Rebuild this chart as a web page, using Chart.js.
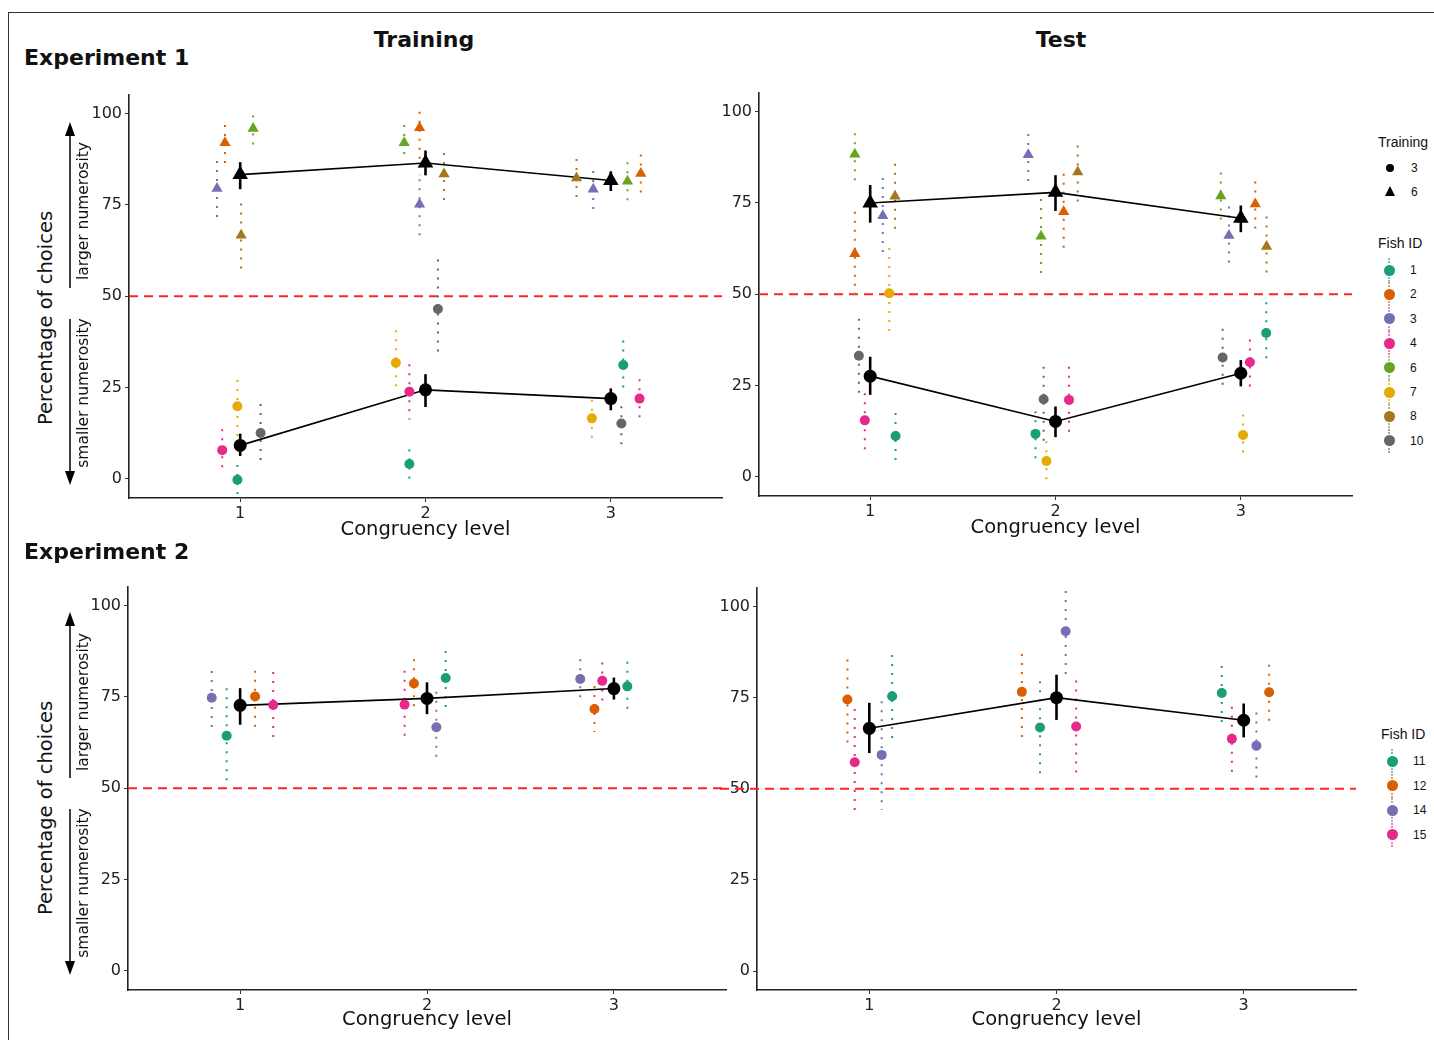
<!DOCTYPE html>
<html>
<head>
<meta charset="utf-8">
<title>Percentage of choices by congruency level</title>
<script src="https://cdn.jsdelivr.net/npm/chart.js@4.4.0/dist/chart.umd.min.js"></script>
<style>
  body { margin: 0; background: #fff; }
  #page { position: relative; width: 1434px; height: 1040px; overflow: hidden; font-family: 'DejaVu Sans', sans-serif; color: #111; }
  .frame { position: absolute; left: 8px; top: 12px; width: 1440px; height: 1040px; border-top: 1px solid #333; border-left: 1px solid #333; }
  .panel { position: absolute; }
  .lbl { position: absolute; white-space: nowrap; line-height: 1; }
  .bold { font-weight: bold; font-size: 22px; }
  .legend { font-family: 'Liberation Sans', Arial, sans-serif; }
  .dot { position: absolute; border-radius: 50%; }
  .tri { position: absolute; width: 0; height: 0; border-left: 5px solid transparent; border-right: 5px solid transparent; border-bottom: 10px solid #000; }
  .keyline { position: absolute; width: 0; border-left: 2px dotted; }
</style>
</head>
<body>
<div id="page">
  <div class="frame"></div>
  <svg width="1434" height="1040" style="position:absolute;left:0;top:0" id="arrows"></svg>
  <div class="panel" id="p1"><canvas id="c1"></canvas></div>
  <div class="panel" id="p2"><canvas id="c2"></canvas></div>
  <div class="panel" id="p3"><canvas id="c3"></canvas></div>
  <div class="panel" id="p4"><canvas id="c4"></canvas></div>
</div>
<script>
'use strict';

// data
const levels = [1, 2, 3];
const yTicks = [0, 25, 50, 75, 100];
const chance = 50;

// Experiment 1 - fish and their training group (3 = smaller, 6 = larger numerosity)
const exp1Fish = ['1', '2', '3', '4', '6', '7', '8', '10'];
const exp1Group = [3, 6, 6, 3, 6, 3, 6, 3];
const exp1Colors = ['#1B9E77', '#D95F02', '#7570B3', '#E7298A', '#66A61E', '#E6AB02', '#A6761D', '#666666'];

// Experiment 1, training: one row per fish, one value per congruency level
const e1TrainPct = [
  [-0.2, 4.1, 31.2],
  [92.0, 96.1, 83.6],
  [79.5, 75.2, 79.3],
  [7.9, 23.9, 22.0],
  [95.9, 92.0, 81.5],
  [19.9, 31.8, 16.6],
  [66.7, 83.5, 82.4],
  [12.6, 46.5, 15.2]
];
const e1TrainLo = [
  [-4.7, 0.0, 24.4],
  [86.0, 83.1, 77.7],
  [70.7, 65.9, 73.2],
  [2.3, 16.3, 16.3],
  [91.2, 88.5, 75.4],
  [10.8, 23.9, 10.8],
  [56.9, 75.2, 76.2],
  [3.9, 33.0, 8.9]
];
const e1TrainHi = [
  [3.8, 8.1, 37.9],
  [96.9, 100.5, 88.8],
  [87.0, 82.0, 84.3],
  [13.6, 31.4, 27.3],
  [99.5, 96.9, 86.7],
  [27.1, 40.7, 21.7],
  [75.4, 89.2, 87.6],
  [20.5, 60.1, 19.9]
];
const e1TrainDodge = [
  [-0.015, -0.087, 0.067],
  [-0.082, -0.032, 0.162],
  [-0.125, -0.032, -0.095],
  [-0.097, -0.087, 0.155],
  [0.07, -0.115, 0.09],
  [-0.015, -0.16, -0.102],
  [0.005, 0.1, -0.185],
  [0.11, 0.067, 0.057]
];
const e1TrainMean = [[9.2, 24.4, 22.0], [83.3, 86.5, 81.7]];
const e1TrainMeanLo = [[6.3, 19.7, 18.8], [79.3, 83.1, 78.8]];
const e1TrainMeanHi = [[12.4, 28.7, 24.8], [86.7, 89.9, 84.2]];

// Experiment 1, test
const e1TestPct = [
  [11.2, 11.8, 39.4],
  [61.1, 72.6, 74.7],
  [71.5, 88.2, 66.1],
  [15.5, 21.1, 31.4],
  [88.3, 65.9, 76.9],
  [50.3, 4.4, 11.5],
  [76.8, 83.5, 63.1],
  [33.2, 21.3, 32.7]
];
const e1TestLo = [
  [3.5, 4.2, 31.1],
  [49.0, 61.3, 67.2],
  [60.4, 80.0, 58.2],
  [6.7, 10.7, 23.4],
  [80.6, 54.4, 69.5],
  [38.1, -1.0, 6.1],
  [66.3, 74.4, 55.0],
  [22.0, 9.4, 24.8]
];
const e1TestHi = [
  [17.5, 18.0, 47.8],
  [72.6, 83.0, 80.9],
  [81.8, 93.9, 74.0],
  [22.9, 30.2, 37.6],
  [94.1, 76.1, 83.3],
  [62.7, 9.8, 17.1],
  [85.7, 90.7, 71.3],
  [43.3, 30.2, 40.6]
];
const e1TestDodge = [
  [0.137, -0.108, 0.137],
  [-0.083, 0.044, 0.078],
  [0.068, -0.147, -0.064],
  [-0.029, 0.073, 0.049],
  [-0.083, -0.078, -0.108],
  [0.103, -0.049, 0.012],
  [0.134, 0.12, 0.139],
  [-0.061, -0.064, -0.098]
];
const e1TestMean = [[27.6, 15.2, 28.4], [75.0, 77.9, 70.8]];
const e1TestMeanLo = [[22.5, 10.9, 24.8], [69.6, 72.8, 67.0]];
const e1TestMeanHi = [[32.9, 19.3, 32.0], [79.9, 82.6, 74.3]];

// Experiment 2
const exp2Fish = ['11', '12', '14', '15'];
const exp2Group = [0, 0, 0, 0];
const exp2Colors = ['#1B9E77', '#D95F02', '#7570B3', '#E7298A'];

const e2TrainPct = [
  [64.4, 80.2, 77.9],
  [75.1, 78.7, 71.7],
  [74.8, 66.7, 79.9],
  [72.8, 72.9, 79.4]
];
const e2TrainLo = [
  [50.9, 70.9, 70.8],
  [65.9, 71.2, 65.4],
  [65.9, 57.4, 74.7],
  [62.6, 63.2, 73.2]
];
const e2TrainHi = [
  [77.4, 87.6, 84.6],
  [82.2, 85.3, 78.0],
  [82.1, 76.4, 85.3],
  [81.8, 82.2, 84.4]
];
const e2TrainDodge = [
  [-0.072, 0.1, 0.072],
  [0.08, -0.07, -0.104],
  [-0.152, 0.05, -0.18],
  [0.177, -0.12, -0.062]
];
const e2TrainMean = [[72.7, 74.6, 77.3]];
const e2TrainMeanLo = [[67.4, 70.3, 74.3]];
const e2TrainMeanHi = [[77.4, 79.0, 80.3]];

const e2TestPct = [
  [75.4, 66.8, 76.3],
  [74.5, 76.6, 76.5],
  [59.3, 93.2, 61.8],
  [57.3, 67.1, 63.7]
];
const e2TestLo = [
  [62.3, 52.8, 67.2],
  [61.2, 62.8, 67.2],
  [44.2, 80.2, 51.7],
  [42.4, 52.8, 53.7]
];
const e2TestHi = [
  [86.7, 79.5, 83.7],
  [85.5, 87.0, 84.0],
  [74.0, 104.3, 70.9],
  [71.9, 79.7, 72.5]
];
const e2TestDodge = [
  [0.122, -0.088, -0.117],
  [-0.117, -0.185, 0.136],
  [0.066, 0.049, 0.068],
  [-0.078, 0.105, -0.063]
];
const e2TestMean = [[66.6, 75.0, 68.8]];
const e2TestMeanLo = [[59.8, 68.9, 64.1]];
const e2TestMeanHi = [[73.6, 81.3, 73.4]];

// plugins: red chance line + error bars
const chanceLine = {
  id: 'chanceLine',
  beforeDatasetsDraw(chart, args, opts) {
    const ctx = chart.ctx;
    const area = chart.chartArea;
    const y = chart.scales.y.getPixelForValue(chance);
    ctx.save();
    ctx.strokeStyle = '#FF2424';
    ctx.lineWidth = 2;
    ctx.setLineDash([9, 6]);
    ctx.beginPath();
    ctx.moveTo(area.left - (opts.extendLeft || 0), y);
    ctx.lineTo(area.right, y);
    ctx.stroke();
    ctx.restore();
  }
};

function drawBars(chart, dotted) {
  const ctx = chart.ctx;
  const yScale = chart.scales.y;
  chart.data.datasets.forEach((ds, i) => {
    if (ds.dotted !== dotted) return;
    const meta = chart.getDatasetMeta(i);
    ctx.save();
    ctx.strokeStyle = ds.borderColor;
    ctx.lineWidth = dotted ? 2 : 2.6;
    ctx.setLineDash(dotted ? [2, 7] : []);
    meta.data.forEach((pt, j) => {
      ctx.beginPath();
      ctx.moveTo(pt.x, yScale.getPixelForValue(ds.hi[j]));
      ctx.lineTo(pt.x, yScale.getPixelForValue(ds.lo[j]));
      ctx.stroke();
    });
    ctx.restore();
  });
}

const errorBars = {
  id: 'errorBars',
  beforeDatasetsDraw(chart) { drawBars(chart, true); },
  afterDatasetsDraw(chart) { drawBars(chart, false); }
};

function makePanel(id, area, fish, groups, colors, pct, lo, hi, dodge, mean, meanLo, meanHi, extendLeft) {
  const yW = 70, padTop = 10, padRight = 8, xH = 50;
  const wrap = document.getElementById('p' + id);
  const canvas = document.getElementById('c' + id);
  const w = area.r - area.l + yW + padRight;
  const h = area.b - area.t + padTop + xH;
  wrap.style.left = (area.l - yW) + 'px';
  wrap.style.top = (area.t - padTop) + 'px';
  canvas.width = w;
  canvas.height = h;

  let datasets = [];
  for (let i = 0; i < fish.length; i++) {
    let tri = groups[i] === 6;
    datasets.push({
      type: 'scatter',
      label: 'Fish ' + fish[i],
      data: levels.map((lv, j) => ({ x: lv + dodge[i][j], y: pct[i][j] })),
      lo: lo[i],
      hi: hi[i],
      dotted: true,
      backgroundColor: colors[i],
      borderColor: colors[i],
      borderWidth: 0,
      pointStyle: tri ? 'triangle' : 'circle',
      pointRadius: tri ? 6.5 : 5
    });
  }
  for (let k = 0; k < mean.length; k++) {
    let tri = mean.length > 1 && k === 1;
    datasets.push({
      type: 'line',
      label: 'Mean',
      data: levels.map((lv, j) => ({ x: lv, y: mean[k][j] })),
      lo: meanLo[k],
      hi: meanHi[k],
      dotted: false,
      borderColor: '#000',
      backgroundColor: '#000',
      borderWidth: 1.6,
      tension: 0,
      pointStyle: tri ? 'triangle' : 'circle',
      pointRadius: tri ? 9 : 6.5,
      pointBorderWidth: 0
    });
  }

  const tickFont = { family: 'DejaVu Sans', size: 16 };
  new Chart(canvas.getContext('2d'), {
    type: 'scatter',
    data: { datasets: datasets },
    options: {
      responsive: false,
      animation: false,
      events: [],
      layout: { padding: { top: padTop, right: padRight, left: 0, bottom: 0 } },
      plugins: {
        legend: { display: false },
        tooltip: { enabled: false },
        chanceLine: { extendLeft: extendLeft || 0 }
      },
      scales: {
        x: {
          type: 'linear',
          min: 0.4,
          max: 3.6,
          afterBuildTicks: s => { s.ticks = levels.map(v => ({ value: v })); },
          afterFit: s => { s.height = xH; },
          grid: { display: true, drawOnChartArea: false, tickLength: 4, color: '#333', lineWidth: 1 },
          border: { color: '#222', width: 1.6 },
          ticks: { font: tickFont, color: '#222', padding: 2 },
          title: {
            display: true,
            text: 'Congruency level',
            font: { family: 'DejaVu Sans', size: 19.5 },
            color: '#111',
            padding: { top: 0, bottom: id > 2 ? 8 : 6 }
          }
        },
        y: {
          min: -5.2,
          max: 105.2,
          afterBuildTicks: s => { s.ticks = yTicks.map(v => ({ value: v })); },
          afterFit: s => { s.width = yW; },
          grid: { display: true, drawOnChartArea: false, tickLength: 4, color: '#333', lineWidth: 1 },
          border: { color: '#222', width: 1.6 },
          ticks: { font: tickFont, color: '#222', padding: 3 }
        }
      }
    },
    plugins: [chanceLine, errorBars]
  });
}

makePanel(1, { l: 129, t: 92, r: 723, b: 498 }, exp1Fish, exp1Group, exp1Colors,
  e1TrainPct, e1TrainLo, e1TrainHi, e1TrainDodge, e1TrainMean, e1TrainMeanLo, e1TrainMeanHi);
makePanel(2, { l: 759, t: 90, r: 1353, b: 496 }, exp1Fish, exp1Group, exp1Colors,
  e1TestPct, e1TestLo, e1TestHi, e1TestDodge, e1TestMean, e1TestMeanLo, e1TestMeanHi);
makePanel(3, { l: 128, t: 584, r: 726, b: 990 }, exp2Fish, exp2Group, exp2Colors,
  e2TrainPct, e2TrainLo, e2TrainHi, e2TrainDodge, e2TrainMean, e2TrainMeanLo, e2TrainMeanHi);
makePanel(4, { l: 757, t: 585, r: 1356, b: 990 }, exp2Fish, exp2Group, exp2Colors,
  e2TestPct, e2TestLo, e2TestHi, e2TestDodge, e2TestMean, e2TestMeanLo, e2TestMeanHi, 37);

// text labels
const page = document.getElementById('page');
function addLabel(text, x, y, cls, extra) {
  let d = document.createElement('div');
  d.className = 'lbl ' + (cls || '');
  d.textContent = text;
  d.style.left = x + 'px';
  d.style.top = y + 'px';
  d.style.transform = extra || 'translate(0, -50%)';
  page.appendChild(d);
  return d;
}
addLabel('Training', 424, 40, 'bold', 'translate(-50%, -50%)');
addLabel('Test', 1061, 40, 'bold', 'translate(-50%, -50%)');
addLabel('Experiment 1', 24, 58, 'bold');
addLabel('Experiment 2', 24, 552, 'bold');

const rot = 'translate(-50%, -50%) rotate(-90deg)';
[[318, 211, 393], [808, 702, 883]].forEach(r => {
  addLabel('Percentage of choices', 46, r[0], '', rot).style.fontSize = '19.5px';
  addLabel('larger numerosity', 84, r[1], '', rot).style.fontSize = '15.5px';
  addLabel('smaller numerosity', 84, r[2], '', rot).style.fontSize = '15.5px';
});

// arrows next to the axis titles
const svg = document.getElementById('arrows');
function arrow(x, y1, y2, up) {
  let tip = up ? y1 : y2;
  let base = up ? tip + 14 : tip - 14;
  svg.insertAdjacentHTML('beforeend',
    `<line x1="${x}" y1="${up ? base : y1}" x2="${x}" y2="${up ? y2 : base}" stroke="#000" stroke-width="1.5"/>` +
    `<polygon points="${x - 5},${base} ${x + 5},${base} ${x},${tip}" fill="#000"/>`);
}
arrow(70, 122, 288, true);
arrow(70, 319, 485, false);
arrow(70, 612, 778, true);
arrow(70, 809, 975, false);

// legends
function legendTitle(text, x, y) {
  let d = addLabel(text, x, y, 'legend');
  d.style.fontSize = '14px';
}
function legendItem(text, x, y, color, shape) {
  if (shape === 'triangle') {
    let t = document.createElement('div');
    t.className = 'tri';
    t.style.left = (x - 5) + 'px';
    t.style.top = (y - 6) + 'px';
    page.appendChild(t);
  } else if (shape === 'small') {
    let c = document.createElement('div');
    c.className = 'dot';
    c.style.cssText += `left:${x - 4}px;top:${y - 4}px;width:8px;height:8px;background:${color};`;
    page.appendChild(c);
  } else {
    let k = document.createElement('div');
    k.className = 'keyline';
    k.style.cssText += `left:${x - 1}px;top:${y - 12}px;height:24px;border-color:${color};opacity:0.6;`;
    page.appendChild(k);
    let c = document.createElement('div');
    c.className = 'dot';
    c.style.cssText += `left:${x - 5.5}px;top:${y - 5.5}px;width:11px;height:11px;background:${color};`;
    page.appendChild(c);
  }
  let d = addLabel(text, x + 21, y, 'legend');
  d.style.fontSize = '12px';
}

legendTitle('Training', 1378, 142);
legendItem('3', 1390, 168, '#000', 'small');
legendItem('6', 1390, 192, '#000', 'triangle');
legendTitle('Fish ID', 1378, 243);
exp1Fish.forEach((f, i) => legendItem(f, 1389, 270 + i * 24.4, exp1Colors[i], 'circle'));
legendTitle('Fish ID', 1381, 734);
exp2Fish.forEach((f, i) => legendItem(f, 1392, 761 + i * 24.5, exp2Colors[i], 'circle'));
</script>
</body>
</html>
